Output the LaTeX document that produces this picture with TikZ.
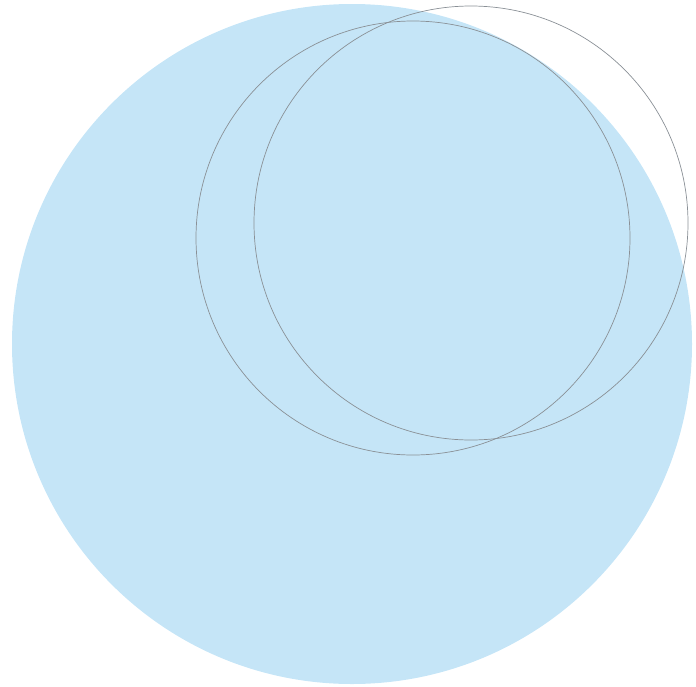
\documentclass[tikz,border=0pt]{standalone}
\definecolor{fillblue}{HTML}{C5E5F7}
\definecolor{ringgray}{HTML}{8A9096}
\tikzset{ring/.style={draw=ringgray,line width=0.7pt}}
\begin{document}
\begin{tikzpicture}[x=1pt,y=-1pt]
\useasboundingbox (0,0) rectangle (696,686);
\fill[fillblue] (352,344) circle (340);
\draw[ring] (413,238) circle (217);
\draw[ring] (471,223) circle (217);
\end{tikzpicture}
\end{document}
